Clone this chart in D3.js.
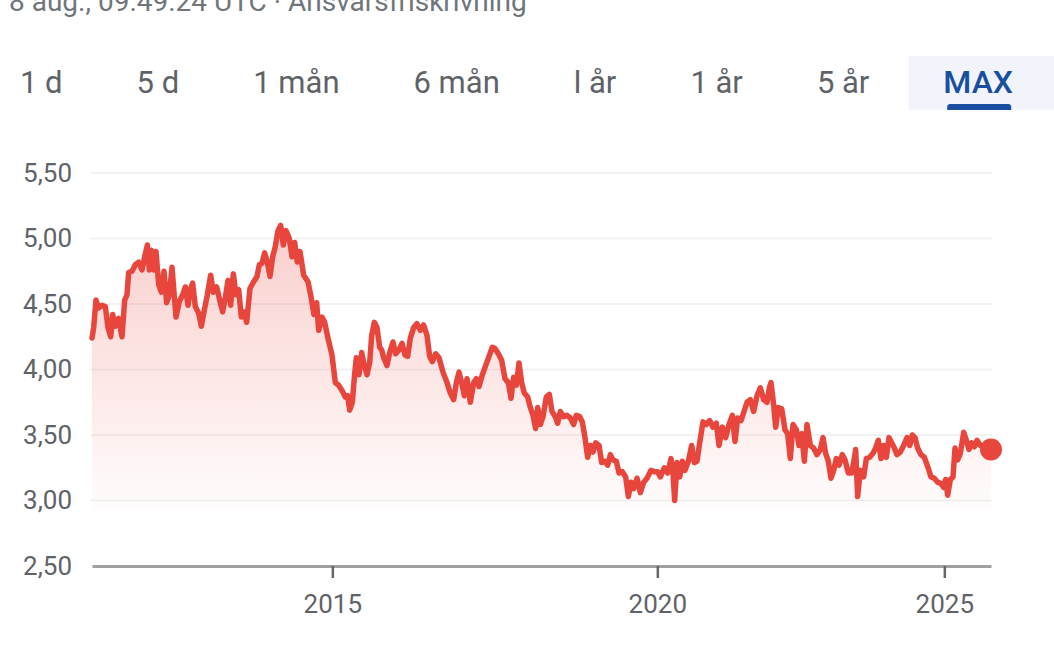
<!DOCTYPE html>
<html>
<head>
<meta charset="utf-8">
<script src="https://cdn.jsdelivr.net/npm/d3@7"></script>
<style>
  body { margin: 0; background: #fff; }
  svg { display: block; font-family: Roboto, "Noto Sans", sans-serif; }
</style>
</head>
<body>
<div id="chart"></div>
<script>
// trading session index (x) and closing price (y)
const sessions = [
  0, 5, 12, 20, 30, 40, 48, 56, 62, 70, 80, 90, 98, 105, 110, 120, 130, 140, 150, 158,
  166, 172, 178, 185, 192, 200, 208, 216, 224, 232, 240, 252, 262, 272, 280, 288, 295, 302, 310, 320,
  328, 336, 346, 356, 364, 374, 384, 392, 400, 408, 416, 424, 432, 440, 448, 456, 464, 474, 485, 495,
  502, 510, 518, 526, 534, 542, 550, 558, 566, 574, 582, 592, 600, 608, 616, 624, 635, 648, 656, 666,
  674, 680, 690, 698, 708, 720, 730, 740, 750, 760, 767, 773, 781, 787, 793, 801, 809, 817, 825, 833,
  839, 847, 855, 863, 869, 875, 885, 893, 903, 911, 921, 930, 939, 947, 955, 965, 975, 985, 995, 1005,
  1013, 1021, 1031, 1041, 1053, 1065, 1075, 1085, 1093, 1101, 1109, 1117, 1125, 1135, 1145, 1153, 1161, 1171, 1181, 1191,
  1201, 1209, 1219, 1229, 1239, 1249, 1257, 1265, 1273, 1281, 1289, 1297, 1307, 1315, 1323, 1331, 1337, 1345, 1353, 1363,
  1372, 1380, 1390, 1397, 1405, 1415, 1425, 1435, 1445, 1453, 1463, 1471, 1479, 1487, 1495, 1503, 1511, 1521, 1529, 1539,
  1547, 1555, 1563, 1573, 1581, 1591, 1601, 1609, 1617, 1625, 1635, 1645, 1655, 1665, 1677, 1687, 1697, 1705, 1717, 1727,
  1737, 1743, 1748, 1755, 1763, 1771, 1779, 1789, 1799, 1807, 1815, 1823, 1833, 1843, 1853, 1863, 1873, 1881, 1891, 1901,
  1911, 1921, 1929, 1937, 1947, 1955, 1965, 1975, 1985, 1995, 2005, 2015, 2025, 2032, 2037, 2045, 2051, 2059, 2069, 2079,
  2087, 2095, 2103, 2113, 2121, 2129, 2137, 2145, 2155, 2165, 2175, 2185, 2193, 2201, 2209, 2217, 2225, 2233, 2241, 2251,
  2259, 2269, 2279, 2287, 2291, 2297, 2305, 2315, 2323, 2333, 2343, 2351, 2359, 2367, 2375, 2383, 2391, 2399, 2407, 2415,
  2425, 2435, 2445, 2453, 2461, 2469, 2477, 2487, 2497, 2507, 2517, 2527, 2537, 2547, 2555, 2561, 2567, 2575, 2583, 2589,
  2597, 2605, 2615, 2623, 2631, 2639, 2647, 2655, 2665, 2675, 2685, 2697
];
const prices = [
  4.24, 4.32, 4.53, 4.47, 4.49, 4.48, 4.32, 4.25, 4.42, 4.33, 4.39, 4.25, 4.53, 4.57, 4.74, 4.75, 4.80, 4.82, 4.76, 4.86,
  4.95, 4.76, 4.91, 4.76, 4.90, 4.65, 4.59, 4.75, 4.51, 4.57, 4.78, 4.40, 4.52, 4.57, 4.63, 4.49, 4.61, 4.66, 4.48, 4.43,
  4.33, 4.44, 4.57, 4.72, 4.59, 4.63, 4.52, 4.44, 4.55, 4.68, 4.49, 4.73, 4.57, 4.61, 4.40, 4.44, 4.36, 4.62, 4.67, 4.71,
  4.80, 4.81, 4.89, 4.82, 4.71, 4.86, 4.94, 5.06, 5.10, 4.95, 5.06, 5.00, 4.86, 4.97, 4.82, 4.90, 4.72, 4.67, 4.57, 4.42,
  4.51, 4.30, 4.40, 4.36, 4.24, 4.11, 3.90, 3.88, 3.84, 3.79, 3.80, 3.69, 3.75, 3.94, 4.09, 3.96, 4.13, 4.03, 3.96, 4.05,
  4.26, 4.36, 4.32, 4.17, 4.15, 4.09, 4.03, 4.13, 4.21, 4.12, 4.15, 4.20, 4.11, 4.10, 4.24, 4.32, 4.35, 4.30, 4.34, 4.26,
  4.10, 4.06, 4.12, 4.09, 3.98, 3.90, 3.82, 3.77, 3.90, 3.98, 3.90, 3.80, 3.93, 3.75, 3.90, 3.93, 3.87, 3.96, 4.03, 4.10,
  4.17, 4.16, 4.12, 4.07, 3.93, 3.90, 3.78, 3.94, 3.88, 4.05, 3.90, 3.82, 3.79, 3.71, 3.65, 3.55, 3.71, 3.58, 3.64, 3.79,
  3.81, 3.68, 3.64, 3.59, 3.68, 3.64, 3.65, 3.63, 3.58, 3.65, 3.64, 3.60, 3.48, 3.33, 3.42, 3.37, 3.44, 3.42, 3.29, 3.30,
  3.27, 3.35, 3.31, 3.30, 3.21, 3.22, 3.18, 3.03, 3.14, 3.09, 3.17, 3.06, 3.14, 3.17, 3.23, 3.22, 3.22, 3.18, 3.25, 3.21,
  3.32, 3.21, 3.00, 3.29, 3.18, 3.30, 3.23, 3.30, 3.42, 3.29, 3.30, 3.44, 3.60, 3.58, 3.61, 3.56, 3.59, 3.42, 3.56, 3.48,
  3.58, 3.65, 3.45, 3.63, 3.61, 3.67, 3.75, 3.77, 3.68, 3.80, 3.86, 3.77, 3.75, 3.86, 3.90, 3.73, 3.56, 3.71, 3.70, 3.54,
  3.51, 3.32, 3.58, 3.54, 3.42, 3.51, 3.30, 3.58, 3.42, 3.40, 3.35, 3.39, 3.48, 3.36, 3.30, 3.17, 3.23, 3.32, 3.27, 3.35,
  3.31, 3.21, 3.21, 3.32, 3.39, 3.03, 3.23, 3.18, 3.32, 3.33, 3.36, 3.40, 3.46, 3.32, 3.42, 3.33, 3.48, 3.44, 3.40, 3.35,
  3.37, 3.42, 3.48, 3.42, 3.50, 3.48, 3.40, 3.35, 3.33, 3.26, 3.18, 3.17, 3.14, 3.13, 3.10, 3.16, 3.04, 3.16, 3.18, 3.40,
  3.31, 3.36, 3.52, 3.46, 3.39, 3.44, 3.41, 3.46, 3.42, 3.42, 3.40, 3.39
];
const yearTicks = [721, 1696, 2557];
const yearLabels = ['2015', '2020', '2025'];
const priceTicks = [2.5, 3, 3.5, 4, 4.5, 5, 5.5];
const rangeTabs = ['1 d', '5 d', '1 mån', '6 mån', 'l år', '1 år', '5 år', 'MAX'];
const activeTab = 'MAX';
const headerText = '8 aug., 09.49.24 UTC · Ansvarsfriskrivning';

const width = 1054, height = 647;
const plotLeft = 92, plotRight = 991, plotTop = 173, plotBottom = 566;
const red = '#e8453c';
const blue = '#1a4ea0';
const gray = '#5f6368';

const data = sessions.map((s, i) => ({ s: s, v: prices[i] }));

const svg = d3.select('#chart').append('svg')
  .attr('width', width)
  .attr('height', height);

// header (cut off at the top in the screenshot)
svg.append('text')
  .attr('x', 9)
  .attr('y', 11)
  .attr('font-size', 28)
  .attr('fill', '#70757a')
  .text(headerText);

// range tabs, laid out by text width with a fixed gap
const tabGap = 74;
let tabX = 20;
const tabs = svg.append('g');
rangeTabs.forEach(function (t) {
  const active = t === activeTab;
  const g = tabs.append('g');
  const txt = g.append('text')
    .attr('x', tabX)
    .attr('y', 93)
    .attr('font-size', active ? 32 : 31)
    .attr('font-weight', active ? 500 : 400)
    .attr('fill', active ? blue : gray)
    .text(t);
  const w = txt.node().getComputedTextLength();
  if (active) {
    g.insert('rect', 'text')
      .attr('x', tabX - 35)
      .attr('y', 56)
      .attr('width', width - (tabX - 35))
      .attr('height', 54)
      .attr('fill', '#f1f5fb');
    g.append('path')
      .attr('d', `M${tabX + w / 2 - 31},110 v-3 a3,3 0 0 1 3,-3 h58 a3,3 0 0 1 3,3 v3 z`)
      .attr('fill', blue);
  }
  tabX += w + tabGap;
});

const x = d3.scaleLinear()
  .domain([0, d3.max(sessions)])
  .range([plotLeft, plotRight]);

const y = d3.scaleLinear()
  .domain([2.5, 5.5])
  .range([plotBottom, plotTop]);

const locale = d3.formatLocale({ decimal: ',', thousands: ' ', grouping: [3], currency: ['', ' kr'] });
const fmt = locale.format('.2f');

// gridlines
svg.append('g')
  .selectAll('line')
  .data(priceTicks.filter(d => d > 2.5))
  .join('line')
  .attr('x1', plotLeft - 2)
  .attr('x2', plotRight + 1)
  .attr('y1', d => y(d))
  .attr('y2', d => y(d))
  .attr('stroke', '#eeeeee')
  .attr('stroke-width', 1.5);

// y labels
const yAxis = svg.append('g')
  .attr('transform', `translate(${plotLeft - 2},0)`)
  .call(d3.axisLeft(y).tickValues(priceTicks).tickFormat(fmt).tickSize(0).tickPadding(18));
yAxis.select('.domain').remove();
yAxis.selectAll('text')
  .attr('font-size', 26)
  .attr('font-family', 'Roboto, sans-serif')
  .attr('fill', gray);

// area gradient
const defs = svg.append('defs');
const grad = defs.append('linearGradient')
  .attr('id', 'areaFill')
  .attr('gradientUnits', 'userSpaceOnUse')
  .attr('x1', 0).attr('x2', 0)
  .attr('y1', y(5.1)).attr('y2', y(2.9));
grad.append('stop').attr('offset', 0).attr('stop-color', red).attr('stop-opacity', 0.26);
grad.append('stop').attr('offset', 1).attr('stop-color', red).attr('stop-opacity', 0.01);

const area = d3.area()
  .x(d => x(d.s))
  .y0(y(2.92))
  .y1(d => y(d.v));

svg.append('path')
  .datum(data)
  .attr('d', area)
  .attr('fill', 'url(#areaFill)');

// x axis
const xAxis = svg.append('g')
  .attr('transform', `translate(0,${plotBottom})`)
  .call(d3.axisBottom(x)
    .tickValues(yearTicks)
    .tickFormat((d, i) => yearLabels[i])
    .tickSizeInner(12)
    .tickSizeOuter(0)
    .tickPadding(17));
xAxis.select('.domain')
  .attr('stroke', '#a0a0a0')
  .attr('stroke-width', 3);
xAxis.selectAll('.tick line')
  .attr('stroke', '#666')
  .attr('stroke-width', 2.5);
xAxis.selectAll('text')
  .attr('font-size', 26)
  .attr('font-family', 'Roboto, sans-serif')
  .attr('fill', gray);

// price line
const line = d3.line()
  .x(d => x(d.s))
  .y(d => y(d.v));

svg.append('path')
  .datum(data)
  .attr('d', line)
  .attr('fill', 'none')
  .attr('stroke', red)
  .attr('stroke-width', 5.5)
  .attr('stroke-linejoin', 'round')
  .attr('stroke-linecap', 'round');

// last value dot
const last = data[data.length - 1];
svg.append('circle')
  .attr('cx', x(last.s))
  .attr('cy', y(last.v))
  .attr('r', 11)
  .attr('fill', red);
</script>
</body>
</html>
